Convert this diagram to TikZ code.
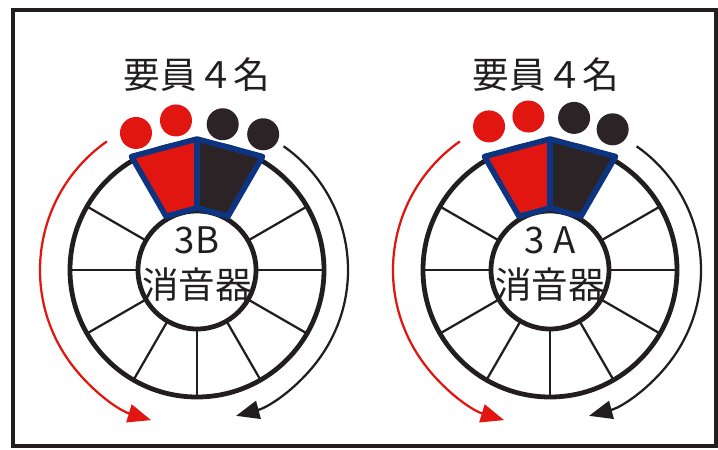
\documentclass[tikz,border=0pt]{standalone}
\usepackage{fontspec}
\setmainfont{Noto Sans CJK JP}
\usetikzlibrary{arrows.meta}

\definecolor{seatred}{RGB}{226,22,16}
\definecolor{seatdark}{RGB}{44,35,39}
\definecolor{seatblue}{RGB}{12,52,128}
\definecolor{ink}{RGB}{34,30,32}

\tikzset{
  person/.style={circle, inner sep=0pt, minimum size=0.8cm},
  spoke/.style={line width=1.6pt, ink},
  rim/.style={line width=3.4pt, ink},
  turn/.style={line width=1.6pt, -{Triangle[length=0.58cm, width=0.46cm]}},
  label/.style={font=\fontsize{26}{32}\selectfont, text=ink, align=center},
  seatline/.style={seatblue, line width=4pt, line join=round}
}

\begin{document}
\begin{tikzpicture}[x=0.025cm, y=0.025cm]
\useasboundingbox (0,0) rectangle (718,449);
\draw[line width=2.3pt, ink] (13,3) rectangle (716,439);

% 3B
\begin{scope}[shift={(197,179)}]
\foreach \a in {0,30,150,180,210,240,270,300,330}
  \draw[spoke] (\a:59) -- (\a:127);
\draw[rim] (0,0) circle[radius=127];
\draw[rim] (0,0) circle[radius=59];
\fill[seatred] (120:131) -- (90:131) -- (90:62) -- (120:62) -- cycle;
\fill[seatdark] (90:131) -- (60:131) -- (60:62) -- (90:62) -- cycle;
\draw[seatline] (120:131) -- (90:131) -- (60:131) -- (60:62) -- (90:62) -- (120:62) -- cycle (90:131) -- (90:62);
\node[person, fill=seatred] (bp1) at (114:150) {};
\node[person, fill=seatred] (bp2) at (98:151) {};
\node[person, fill=seatdark] (bp3) at (80:148) {};
\node[person, fill=seatdark] (bp4) at (64:151) {};
\node[label] (bhub) at (0,6) {3B\\消音器};
\node[label] (btitle) at (0,195) {要員４名};
\draw[turn, seatred] (125:157) arc[start angle=125, end angle=253, radius=157];
\draw[turn, ink] (55:151) arc[start angle=55, end angle=-75, radius=151];
\end{scope}

% 3A
\begin{scope}[shift={(550,179)}]
\foreach \a in {0,30,150,180,210,240,270,300,330}
  \draw[spoke] (\a:59) -- (\a:127);
\draw[rim] (0,0) circle[radius=127];
\draw[rim] (0,0) circle[radius=59];
\fill[seatred] (120:131) -- (90:131) -- (90:62) -- (120:62) -- cycle;
\fill[seatdark] (90:131) -- (60:131) -- (60:62) -- (90:62) -- cycle;
\draw[seatline] (120:131) -- (90:131) -- (60:131) -- (60:62) -- (90:62) -- (120:62) -- cycle (90:131) -- (90:62);
\node[person, fill=seatred] (ap1) at (113:156) {};
\node[person, fill=seatred] (ap2) at (98:155) {};
\node[person, fill=seatdark] (ap3) at (81:154) {};
\node[person, fill=seatdark] (ap4) at (66:154) {};
\node[label] (ahub) at (0,6) {3 A\\消音器};
\node[label] (atitle) at (-4,195) {要員４名};
\draw[turn, seatred] (125:157) arc[start angle=125, end angle=253, radius=157];
\draw[turn, ink] (55:151) arc[start angle=55, end angle=-75, radius=151];
\end{scope}
\end{tikzpicture}
\end{document}
